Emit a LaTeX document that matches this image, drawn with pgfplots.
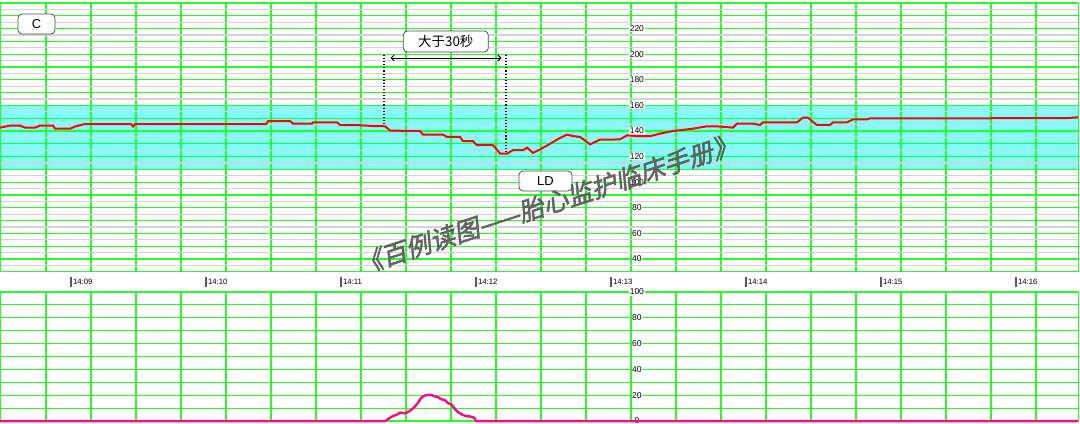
\documentclass[border=0pt]{standalone}
\usepackage{pgfplots}
\pgfplotsset{compat=1.18}
\usepackage{fontspec}
\setmainfont{Liberation Sans}
\newfontfamily\cjk{Noto Sans CJK SC}
\newfontfamily\wmfont[FakeSlant=0.22,FakeBold=2]{Noto Sans CJK SC}
\usetikzlibrary{arrows.meta}

\definecolor{gridgreen}{RGB}{45,250,45}
\definecolor{gridgray}{RGB}{212,212,212}
\definecolor{band}{RGB}{128,255,255}
\definecolor{fhr}{RGB}{255,0,0}
\definecolor{uc}{RGB}{240,20,130}

% seconds since 14:08:00, 2.25 px per second
\pgfplotsset{ctg/.style={
  scale only axis, width=1078bp, anchor=north west,
  xmin=28.44, xmax=507.55,
  xtick={48.88,68.88,...,500}, xticklabels={}, yticklabels={},
  major tick length=0pt, minor tick length=0pt,
  axis line style={gridgreen, line width=1bp},
  major grid style={gridgreen, line width=1.1bp},
  minor grid style={gridgray, line width=1.2bp},
  clip=false, set layers}}

\newcommand\ylab[1]{\node[fill=white, inner sep=0.6bp, font=\fontsize{8.5}{9}\selectfont] at (axis cs:311.5,#1) {#1};}
\newcommand\tlab[2]{\draw[black!65, line width=1.1bp] ([yshift=-5bp]axis cs:#1,30) -- ([yshift=-15bp]axis cs:#1,30);
  \node[anchor=west, inner sep=0, font=\fontsize{7.8}{8}\selectfont] at ([xshift=1.8bp,yshift=-10bp]axis cs:#1,30) {#2};}

\begin{document}
\begin{tikzpicture}

% fetal heart rate
\begin{axis}[ctg, at={(0bp,-3bp)}, height=268.8bp,
  ymin=30, ymax=240, ytick={30,40,...,240}, minor ytick={35,45,...,235}, grid=both]
  \addplot[draw=none, fill=band, on layer=axis background] coordinates {(28.44,110) (507.55,110) (507.55,160) (28.44,160) (28.44,110)};
  \ylab{40}\ylab{60}\ylab{80}\ylab{100}\ylab{120}\ylab{140}\ylab{160}\ylab{180}\ylab{200}\ylab{220}
  \tlab{60}{14:09}\tlab{120}{14:10}\tlab{180}{14:11}\tlab{240}{14:12}
  \tlab{300}{14:13}\tlab{360}{14:14}\tlab{420}{14:15}\tlab{480}{14:16}
  \addplot[fhr, line width=2bp] coordinates {
    (28.4,142.6) (32.9,144.2) (37.3,144.2) (39.6,142.6) (44.0,142.6) (46.2,144.2)
    (52.0,144.2) (52.9,141.8) (59.6,141.8) (61.8,143.5) (66.2,145.5) (68.4,145.3)
    (86.7,145.3) (87.6,143.5) (88.4,145.3) (146.7,145.3) (147.6,147.8) (157.3,147.8)
    (158.7,145.8) (167.1,145.8) (167.6,146.8) (178.2,146.8) (179.6,144.7) (188.4,144.5)
    (195.1,143.8) (199.6,143.7) (201.8,140.4) (206.2,140.2) (215.1,140) (216.4,137.2)
    (225.3,137.2) (227.1,135.4) (232.9,135.4) (234.2,132) (238.7,132) (240.4,128.9)
    (247.6,128.9) (250.7,122.4) (253.8,122.4) (256.4,125) (260.9,125) (262.7,127)
    (265.3,122.9) (268.4,125.5) (272.9,130) (277.3,134.5) (280.4,137.2) (283.1,136)
    (286.2,135.4) (290.7,129.6) (295.1,133.3) (300.9,133.3) (304.0,133.5) (307.1,136.6)
    (312.9,135.9) (317.3,135.9) (321.8,138) (327.6,140) (336.4,141.8) (342.7,143.7)
    (348.4,143.5) (354.2,142.6) (356.0,145.8) (363.1,145.8) (366.2,144.7) (367.6,146.8)
    (382.7,146.8) (385.3,150.4) (387.5,150.4) (391.5,144.7) (397.3,144.7) (398.7,146.8)
    (404.9,146.8) (407.6,149.1) (413.8,149.1) (415.1,149.9) (502.7,150) (507.6,150.8)
  };
\end{axis}

% uterine contractions
\begin{axis}[ctg, at={(0bp,-292bp)}, height=129bp,
  ymin=0, ymax=100, ytick={0,10,...,100}, grid=major]
  \ylab{0}\ylab{20}\ylab{40}\ylab{60}\ylab{80}\ylab{100}
  \addplot[uc, line width=2.5bp] coordinates {
    (28.4,0) (199.6,0) (201.8,2.5) (203.1,3.9) (204.9,5) (206.2,6.5) (208.0,6)
    (209.3,6.5) (211.1,8.5) (212.4,10.4) (214.2,14) (215.5,17.7) (216.9,19.5)
    (218.5,20.3) (220.0,20.3) (221.5,19.2) (223.1,18.5) (224.4,17) (226.2,16.1)
    (227.5,14) (229.3,12.5) (230.7,9) (232.3,6.5) (233.8,5) (235.3,3.9)
    (237.3,3.5) (239.1,2.6) (240.0,0) (507.6,0)
  };
\end{axis}

% annotations
\draw[black, line width=1.1bp, dotted] (384bp,-55bp) -- (384bp,-125bp);
\draw[black, line width=1.1bp, dotted] (506bp,-55bp) -- (506bp,-152bp);
\draw[black, line width=1bp, {Straight Barb[length=3bp]}-{Straight Barb[length=3bp]}] (390.5bp,-58bp) -- (501.5bp,-58bp);
\node[draw=black!70, fill=white, rounded corners=4bp, line width=0.8bp, minimum width=85bp, minimum height=21bp, inner sep=0, font=\cjk\fontsize{13.5}{14}\selectfont] at (445.8bp,-41.5bp) {大于30秒};
\node[draw=black!70, fill=white, rounded corners=4bp, line width=0.8bp, minimum width=37bp, minimum height=20bp, inner sep=0, font=\fontsize{13}{13}\selectfont] at (36.5bp,-24bp) {C};
\node[draw=black!70, fill=white, rounded corners=4bp, line width=0.8bp, minimum width=53bp, minimum height=20bp, inner sep=0, font=\fontsize{13}{13}\selectfont] at (545.5bp,-181bp) {LD};

% watermark
\node[rotate=18, text=black!66, opacity=0.9, inner sep=0, font=\wmfont\fontsize{25.5}{26}\selectfont] at (547bp,-204bp) {《百例读图——胎心监护临床手册》};

\pgfresetboundingbox
\path[use as bounding box] (0,0) rectangle (1080bp,-424bp);
\end{tikzpicture}
\end{document}
